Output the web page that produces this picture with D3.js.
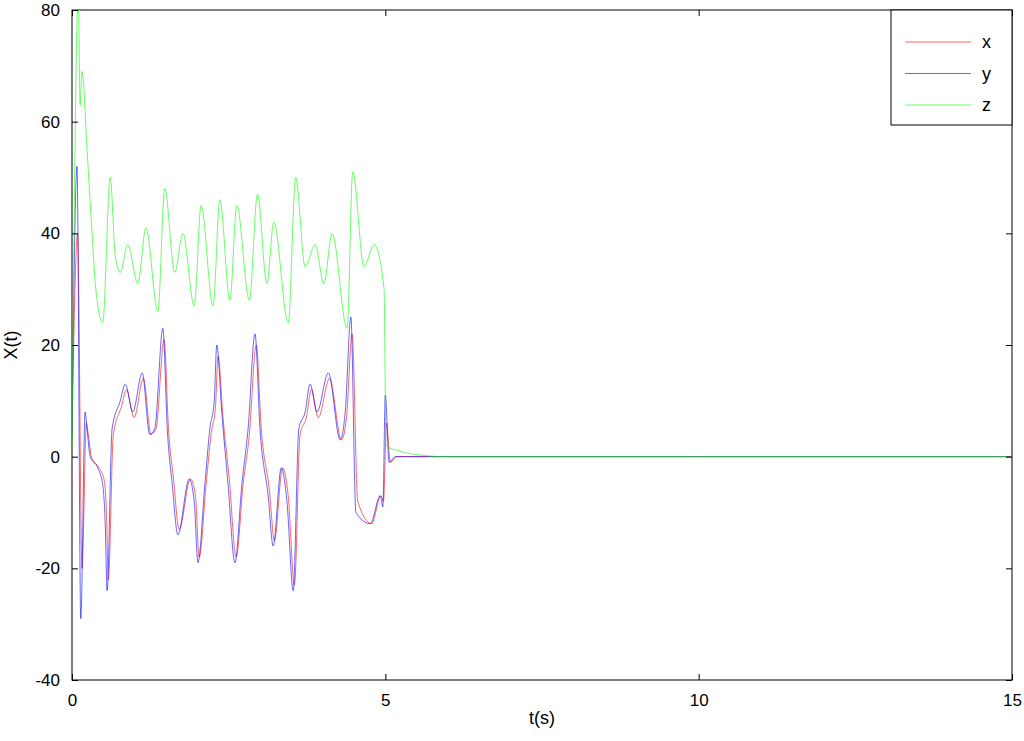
<!DOCTYPE html>
<html><head><meta charset="utf-8">
<script src="https://d3js.org/d3.v7.min.js"></script>
<style>body{margin:0;background:#fff}text{font-family:"Liberation Sans",Arial,sans-serif}</style>
</head><body><svg id="c" width="1024" height="741"></svg>
<script>
// y series (blue)
const tY = [0,0.08,0.14,0.21,0.24,0.29,0.41,0.49,0.53,0.56,0.64,0.77,0.85,0.97,1.12,1.24,1.32,1.45,1.52,1.60,1.69,1.87,1.95,2.01,2.12,2.20,2.27,2.31,2.39,2.49,2.60,2.71,2.81,2.92,3.00,3.13,3.21,3.34,3.43,3.53,3.62,3.72,3.80,3.91,4.09,4.28,4.36,4.45,4.53,4.76,4.92,4.96,5.00,5.06,5.16,6,10,15];
const vY = [4,52,-29,8,5,0,-2,-5,-12,-24,5,10,13,8,15,4,5,23,5,-5,-14,-4,-8,-19,-5,5,10,20,8,-5,-19,-5,5,22,5,-7,-16,-2,-8,-24,5,8,13,8,15,3,8,25,-10,-12,-7,-9,11,-1,0,0,0,0];
// x series (red)
const tX = [0,0.09,0.16,0.23,0.26,0.31,0.43,0.51,0.55,0.58,0.66,0.79,0.87,0.99,1.14,1.26,1.34,1.47,1.54,1.62,1.71,1.89,1.97,2.03,2.14,2.22,2.29,2.33,2.41,2.51,2.62,2.73,2.83,2.94,3.02,3.15,3.23,3.36,3.45,3.55,3.64,3.74,3.82,3.93,4.11,4.30,4.38,4.47,4.56,4.78,4.93,4.97,5.02,5.08,5.18,6,10,15];
const vX = [5,40,-20,6,4,0,-2,-4,-10,-22,4,9,12,7,14,4,5,21,5,-4,-13,-4,-7,-18,-5,4,9,18,7,-4,-18,-5,4,20,5,-6,-15,-2,-7,-23,4,7,12,7,14,3,7,22,-8,-12,-7,-8,6,-1,0,0,0,0];
// z series (green)
const tZ = [0,0.10,0.13,0.16,0.24,0.32,0.38,0.49,0.61,0.69,0.77,0.89,1.05,1.18,1.37,1.48,1.64,1.77,1.95,2.06,2.25,2.36,2.52,2.63,2.83,2.96,3.11,3.22,3.45,3.57,3.72,3.88,4.02,4.15,4.39,4.48,4.66,4.82,4.98,5.01,5.23,5.55,6,10,15];
const vZ = [2,82,63,69,55,40,30,24,50,36,33,38,31,41,26,48,33,40,27,45,27,46,28,45,28,47,31,42,24,50,34,38,31,40,23,51,34,38,30,2,1,0.3,0,0,0];
const xTicks = [0,5,10,15];
const yTicks = [-40,-20,0,20,40,60,80];
const series = [
  {name:'x', t:tX, v:vX, color:'#ff0000'},
  {name:'y', t:tY, v:vY, color:'#0000ff'},
  {name:'z', t:tZ, v:vZ, color:'#00ff00'}
];

const svg = d3.select('#c');
const L=72, R=1012, T=10, B=680;
const x = d3.scaleLinear().domain([0,15]).range([L,R]);
const y = d3.scaleLinear().domain([-40,80]).range([B,T]);

const g = svg.append('g');
g.append('rect').attr('x',L).attr('y',T).attr('width',R-L).attr('height',B-T)
  .attr('fill','#fff').attr('stroke','#000').attr('stroke-width',1);

svg.append('clipPath').attr('id','clp').append('rect')
  .attr('x',L).attr('y',T).attr('width',R-L).attr('height',B-T);

const line = d3.line().x(d=>x(d[0])).y(d=>y(d[1])).curve(d3.curveMonotoneX);
series.forEach(s=>{
  g.append('path').datum(s.t.map((t,i)=>[t,s.v[i]]))
    .attr('d',line).attr('fill','none').attr('stroke',s.color)
    .attr('stroke-width',0.8).attr('stroke-opacity',0.75).attr('clip-path','url(#clp)');
});

const fmt = d => String(d);
function styleAxis(a){
  a.select('.domain').remove();
  a.selectAll('text').attr('font-size',17).attr('fill','#000');
}
styleAxis(g.append('g').attr('transform',`translate(0,${B})`)
  .call(d3.axisBottom(x).tickValues(xTicks).tickSizeInner(-6).tickPadding(14).tickFormat(fmt)));
styleAxis(g.append('g').attr('transform',`translate(0,${T})`)
  .call(d3.axisTop(x).tickValues(xTicks).tickSizeInner(-6).tickFormat('')));
styleAxis(g.append('g').attr('transform',`translate(${L},0)`)
  .call(d3.axisLeft(y).tickValues(yTicks).tickSizeInner(-6).tickPadding(12).tickFormat(fmt)));
styleAxis(g.append('g').attr('transform',`translate(${R},0)`)
  .call(d3.axisRight(y).tickValues(yTicks).tickSizeInner(-6).tickFormat('')));

g.append('text').attr('x',(L+R)/2).attr('y',724).attr('text-anchor','middle')
  .attr('font-size',18).text('t(s)');
g.append('text').attr('transform',`translate(17,${(T+B)/2}) rotate(-90)`)
  .attr('text-anchor','middle').attr('font-size',18).text('X(t)');

const lg = g.append('g');
lg.append('rect').attr('x',891).attr('y',10).attr('width',121).attr('height',115)
  .attr('fill','#fff').attr('stroke','#000');
series.forEach((s,i)=>{
  const yy = 42 + i*31.5;
  lg.append('line').attr('x1',905).attr('x2',971).attr('y1',yy).attr('y2',yy)
    .attr('stroke',s.color).attr('stroke-width',0.8).attr('stroke-opacity',0.75);
  lg.append('text').attr('x',982).attr('y',yy+6).attr('font-size',18).text(s.name);
});
</script></body></html>
